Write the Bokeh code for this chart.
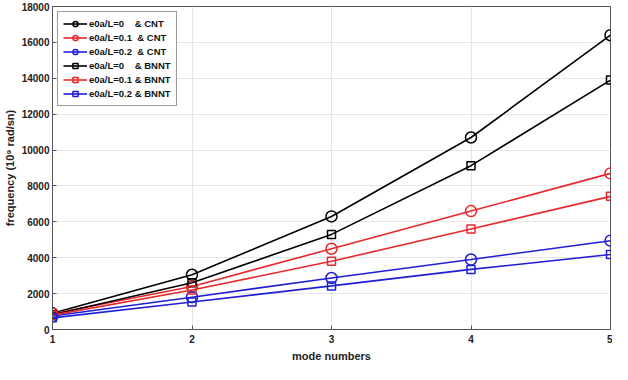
from bokeh.plotting import figure
from bokeh.embed import file_html
from bokeh.resources import INLINE
from bokeh.models import Range1d, FixedTicker, Legend, LegendItem

modes = [1, 2, 3, 4, 5]
cnt_e0 = [900, 3050, 6300, 10700, 16400]
cnt_e01 = [880, 2400, 4500, 6600, 8700]
cnt_e02 = [750, 1800, 2870, 3900, 4950]
bnnt_e0 = [820, 2600, 5300, 9130, 13900]
bnnt_e01 = [800, 2200, 3800, 5600, 7420]
bnnt_e02 = [650, 1530, 2430, 3350, 4180]

labels = ["e0a/L=0    & CNT", "e0a/L=0.1  & CNT", "e0a/L=0.2  & CNT",
          "e0a/L=0    & BNNT", "e0a/L=0.1 & BNNT", "e0a/L=0.2 & BNNT"]
x_ticks = [1, 2, 3, 4, 5]
y_ticks = [0, 2000, 4000, 6000, 8000, 10000, 12000, 14000, 16000, 18000]

p = figure(width=612, height=364, output_backend="svg", toolbar_location=None,
           x_range=Range1d(1, 5), y_range=Range1d(0, 18000),
           min_border_left=30, min_border_right=2, min_border_top=6, min_border_bottom=30)
p.background_fill_color = "white"
p.outline_line_color = "#555555"
p.outline_line_width = 1

font = "Liberation Sans"
for ax in (p.xaxis[0], p.yaxis[0]):
    ax.major_label_text_font = font
    ax.major_label_text_font_size = "10px"
    ax.major_label_text_font_style = "bold"
    ax.major_label_text_color = "#222222"
    ax.axis_label_text_font = font
    ax.axis_label_text_font_size = "11px"
    ax.axis_label_text_font_style = "bold"
    ax.axis_label_text_color = "#222222"
    ax.axis_line_color = "#555555"
    ax.major_tick_line_color = "#555555"
    ax.major_tick_in = 4
    ax.major_tick_out = 0
    ax.minor_tick_line_color = None
p.xaxis.ticker = FixedTicker(ticks=x_ticks)
p.yaxis.ticker = FixedTicker(ticks=y_ticks)
p.xaxis.axis_label = "mode numbers"
p.yaxis.axis_label = "frequency (10⁹ rad/sn)"
p.xaxis.major_label_standoff = 5
p.xaxis.axis_label_standoff = 4
p.yaxis.axis_label_standoff = 3
p.yaxis.major_label_standoff = 3

p.xgrid.grid_line_color = "#e6e6e6"
p.ygrid.grid_line_color = "#e6e6e6"

series = [
    (cnt_e0, "black", "circle"),
    (cnt_e01, "#e8282b", "circle"),
    (cnt_e02, "#1f1fd6", "circle"),
    (bnnt_e0, "black", "square"),
    (bnnt_e01, "#e8282b", "square"),
    (bnnt_e02, "#1f1fd6", "square"),
]
items = []
for (ys, col, mk), lab in zip(series, labels):
    ln = p.line(modes, ys, line_color=col, line_width=1.6)
    if mk == "circle":
        sc = p.scatter(modes, ys, marker="circle", size=11, fill_color=None,
                       line_color=col, line_width=1.5)
    else:
        sc = p.scatter(modes, ys, marker="square", size=8, fill_color=None,
                       line_color=col, line_width=1.5)
    items.append(LegendItem(label=lab, renderers=[ln, sc]))

legend = Legend(items=items, location="top_left")
legend.label_text_font = font
legend.label_text_font_size = "9.5px"
legend.label_text_font_style = "bold"
legend.label_text_color = "#111111"
legend.label_height = 13
legend.glyph_height = 13
legend.glyph_width = 24
legend.spacing = 1
legend.padding = 5
legend.margin = 5
legend.border_line_color = "#333333"
legend.border_line_width = 1
legend.label_standoff = 2
p.add_layout(legend)

open("out.html", "w").write(file_html(p, INLINE))
